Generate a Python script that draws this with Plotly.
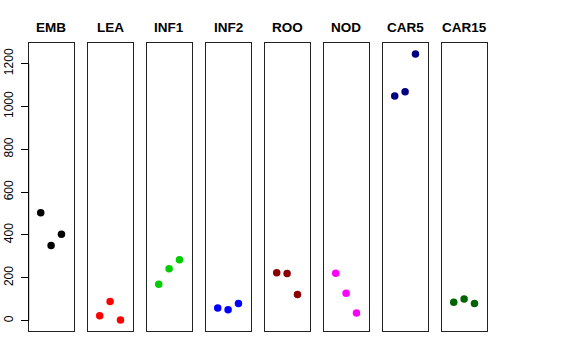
import plotly.graph_objects as go

categories = ["EMB", "LEA", "INF1", "INF2", "ROO", "NOD", "CAR5", "CAR15"]
values = {
    "EMB": [504, 351, 404],
    "LEA": [23, 90, 3],
    "INF1": [170, 242, 285],
    "INF2": [59, 51, 80],
    "ROO": [224, 220, 122],
    "NOD": [221, 128, 36],
    "CAR5": [1049, 1069, 1245],
    "CAR15": [86, 101, 80],
}
colors = ["#000000", "#FF0000", "#00CD00", "#0000FF", "#8B0000", "#FF00FF", "#000080", "#006400"]
replicates = [1, 2, 3]
y_ticks = [0, 200, 400, 600, 800, 1000, 1200]

W, H = 576, 360
allv = [v for c in categories for v in values[c]]
lo, hi = min(allv), max(allv)
pad = 0.04 * (hi - lo)
yrange = [lo - pad, hi + pad]
xrange = [-0.16, 4.16]

fig = go.Figure()
left0, step, width = 28.7, 59.0, 44.8
top, bottom = 43.3, 330.7
layout = {}
for i, (cat, col) in enumerate(zip(categories, colors)):
    n = "" if i == 0 else str(i + 1)
    x0 = left0 + step * i
    fig.add_trace(go.Scatter(
        x=replicates, y=values[cat], mode="markers",
        marker=dict(color=col, size=7.5, line=dict(width=0)),
        xaxis="x" + n, yaxis="y" + n, showlegend=False, cliponaxis=False,
    ))
    layout["xaxis" + n] = dict(
        domain=[x0 / W, (x0 + width) / W], range=xrange,
        showgrid=False, zeroline=False, showticklabels=False, ticks="",
        showline=True, mirror=True, linecolor="#222", linewidth=1,
        anchor="y" + n, fixedrange=True, automargin=False,
    )
    ya = dict(
        domain=[1 - bottom / H, 1 - top / H], range=yrange,
        showgrid=False, zeroline=False,
        showline=True, mirror=True, linecolor="#222", linewidth=1,
        anchor="x" + n, fixedrange=True, automargin=False,
    )
    if i == 0:
        ya.update(tickmode="array", tickvals=y_ticks, ticks="outside", ticklen=7,
                  tickcolor="#000", tickwidth=1, tickangle=-90, ticklabelstandoff=3,
                  tickfont=dict(family="Liberation Sans, Arial", size=12, color="#000"))
    else:
        ya.update(showticklabels=False, ticks="")
    layout["yaxis" + n] = ya
    fig.add_annotation(
        text="<b>%s</b>" % cat, xref="paper", yref="paper",
        x=(x0 + width / 2) / W, y=1 - 28 / H, xanchor="center", yanchor="middle",
        showarrow=False, font=dict(family="Liberation Sans, Arial", size=13.5, color="#000"),
    )

fig.update_layout(
    width=W, height=H, margin=dict(l=0, r=0, t=0, b=0, autoexpand=False),
    paper_bgcolor="white", plot_bgcolor="white", **layout,
)
# R-style axis line spanning tick range
fig.add_shape(type="line", xref="x domain", yref="y", x0=0, x1=0, y0=0, y1=1200,
              line=dict(color="#000", width=1))
fig.write_html("out.html", config={"displayModeBar": False},
               post_script="document.body.style.margin='0';")
